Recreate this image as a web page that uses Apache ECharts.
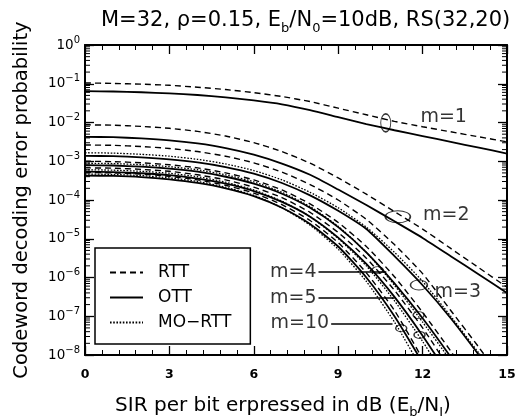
<!DOCTYPE html>
<html><head><meta charset="utf-8">
<script src="https://cdn.jsdelivr.net/npm/echarts@6/dist/echarts.min.js"></script>
<style>html,body{margin:0;padding:0;background:#fff}#c{width:520px;height:416px}</style>
</head><body><div id="c"></div>
<script>
// SIR per bit (dB)
const snr = [0,1,2,3,4,5,6,7,8,9,10,11,12,13,14,15];
const xTickLabels = ['0','3','6','9','12','15'];

// Codeword decoding error probability
const rttM1 = [1.05e-1,1.02e-1,9.77e-2,9.12e-2,8.13e-2,7.08e-2,5.89e-2,4.68e-2,3.47e-2,2.34e-2,1.58e-2,1.07e-2,7.76e-3,5.75e-3,4.27e-3,3.16e-3];
const ottM1 = [6.46e-2,6.31e-2,6.03e-2,5.62e-2,5.13e-2,4.47e-2,3.72e-2,2.95e-2,2.09e-2,1.38e-2,9.12e-3,6.31e-3,4.47e-3,3.16e-3,2.24e-3,1.58e-3];
const rttM2 = [8.71e-3,8.51e-3,7.94e-3,7.08e-3,5.89e-3,4.47e-3,3.02e-3,1.78e-3,8.91e-4,3.72e-4,1.41e-4,5.01e-5,1.78e-5,5.62e-6,1.78e-6,5.62e-7];
const ottM2 = [4.27e-3,4.17e-3,3.89e-3,3.47e-3,2.88e-3,2.19e-3,1.48e-3,8.71e-4,4.47e-4,1.86e-4,7.41e-5,2.82e-5,1.05e-5,3.55e-6,1.20e-6,3.98e-7];
const rttM3 = [2.63e-3,2.57e-3,2.40e-3,2.14e-3,1.78e-3,1.35e-3,9.12e-4,5.25e-4,2.51e-4,1.0e-4,3.16e-5,7.08e-6,1.26e-6,1.41e-7,1.58e-8,1.58e-9];
const ottM3 = [1.38e-3,1.35e-3,1.26e-3,1.12e-3,9.33e-4,7.08e-4,4.79e-4,2.75e-4,1.32e-4,5.25e-5,1.78e-5,3.55e-6,6.31e-7,8.91e-8,1.0e-8,1.0e-9];
const moM3  = [1.66e-3,1.62e-3,1.51e-3,1.35e-3,1.12e-3,8.51e-4,5.75e-4,3.31e-4,1.58e-4,6.31e-5,2.0e-5,4.47e-6,7.94e-7,1.0e-7,1.12e-8,1.26e-9];
const rttM4 = [1.0e-3,9.77e-4,9.12e-4,8.13e-4,6.76e-4,5.01e-4,3.31e-4,1.82e-4,7.94e-5,2.63e-5,6.31e-6,1.05e-6,1.26e-7,1.26e-8,1.12e-9];
const ottM4 = [7.94e-4,7.76e-4,7.24e-4,6.46e-4,5.37e-4,3.98e-4,2.63e-4,1.45e-4,6.31e-5,2.0e-5,4.47e-6,7.08e-7,8.91e-8,8.91e-9,7.94e-10];
const moM4  = [8.91e-4,8.71e-4,8.13e-4,7.24e-4,6.03e-4,4.47e-4,2.95e-4,1.58e-4,6.76e-5,2.09e-5,4.47e-6,6.31e-7,7.08e-8,7.08e-9,6.31e-10];
const rttM5 = [6.76e-4,6.61e-4,6.17e-4,5.50e-4,4.47e-4,3.31e-4,2.14e-4,1.15e-4,4.79e-5,1.45e-5,3.16e-6,4.68e-7,5.01e-8,3.98e-9];
const ottM5 = [5.37e-4,5.25e-4,4.90e-4,4.37e-4,3.55e-4,2.63e-4,1.70e-4,8.91e-5,3.72e-5,1.07e-5,2.24e-6,3.16e-7,3.16e-8,2.51e-9];
const moM5  = [6.03e-4,5.89e-4,5.50e-4,4.90e-4,3.98e-4,2.88e-4,1.82e-4,9.33e-5,3.72e-5,1.02e-5,2.0e-6,2.51e-7,2.24e-8,1.58e-9];
const rttM10 = [5.13e-4,5.01e-4,4.68e-4,4.07e-4,3.31e-4,2.40e-4,1.51e-4,7.59e-5,2.95e-5,7.94e-6,1.32e-6,1.41e-7,7.94e-9];
const ottM10 = [4.27e-4,4.17e-4,3.89e-4,3.39e-4,2.75e-4,2.0e-4,1.26e-4,6.31e-5,2.40e-5,6.31e-6,1.0e-6,1.0e-7,6.31e-9];
const moM10  = [4.68e-4,4.57e-4,4.27e-4,3.72e-4,3.02e-4,2.14e-4,1.32e-4,6.31e-5,2.24e-5,5.37e-6,7.94e-7,7.08e-8,3.98e-9];

// annotation anchors (data coordinates)
const groupLabelText = ['m=1','m=2','m=3'];
const groupLabelX = [12.75, 12.84, 13.25];
const groupLabelP = [1.35e-2, 4.2e-5, 4.3e-7];
const arrowLabelText = ['m=4','m=5','m=10'];
const arrowStartX = [8.3, 8.3, 8.75];
const arrowEndX = [10.71, 11.0, 10.93];
const arrowP = [1.41e-6, 3.0e-7, 6.5e-8];
const ellipseX = [10.69, 11.12, 11.87, 10.40, 11.86, 11.89, 11.24];
const ellipseP = [9.8e-3, 3.7e-5, 6.4e-7, 1.55e-6, 1.07e-7, 3.3e-8, 4.9e-8];
const minorMantissa = [2,3,4,5,6,7,8,9];
const decades = [-8,-7,-6,-5,-4,-3,-2,-1];

const ellipseSize = [[10,18],[25,12],[17,10],[11,7],[11,7],[11,7],[11,7]];
const FONT = '"DejaVu Sans", Verdana, sans-serif';
const MO = 'MO\u2212RTT';

const chart = echarts.init(document.getElementById('c'), null, {renderer:'canvas'});

function curve(name, arr, type, width) {
  return {
    name, type: 'line', data: arr.map((v,i)=>[snr[i], v]),
    symbol: 'none', showSymbol: false, smooth: 0.2, clip: true, silent: true,
    lineStyle: {color:'#000', width, type}, itemStyle: {color:'#000'}, z: 3
  };
}
const DASH = [6,4], DOT = [1.6,1.6];
const series = [
  curve('RTT', rttM1, DASH, 1.4), curve('OTT', ottM1, 'solid', 1.8),
  curve(MO, moM3, DOT, 1.3),
  curve('RTT', rttM2, DASH, 1.4), curve('OTT', ottM2, 'solid', 1.8),
  curve('RTT', rttM3, DASH, 1.4), curve('OTT', ottM3, 'solid', 1.8),
  curve('RTT', rttM4, DASH, 1.4), curve('OTT', ottM4, 'solid', 1.8), curve(MO, moM4, DOT, 1.3),
  curve('RTT', rttM5, DASH, 1.4), curve('OTT', ottM5, 'solid', 1.8), curve(MO, moM5, DOT, 1.3),
  curve('RTT', rttM10, DASH, 1.4), curve('OTT', ottM10, 'solid', 1.8), curve(MO, moM10, DOT, 1.3)
];

const minorVals = [];
decades.forEach(d => minorMantissa.forEach(k => minorVals.push([0, k * Math.pow(10, d)])));
series.push({
  name: 'yminor', type: 'custom', silent: true, z: 5,
  data: minorVals,
  renderItem: function (params, api) {
    const v = api.value(1);
    const a = api.coord([0, v]);
    const b = api.coord([15, v]);
    return {type:'group', children:[
      {type:'line', shape:{x1:a[0], y1:a[1], x2:a[0]+5, y2:a[1]}, style:{stroke:'#000', lineWidth:1}},
      {type:'line', shape:{x1:b[0]-5, y1:b[1], x2:b[0], y2:b[1]}, style:{stroke:'#000', lineWidth:1}}
    ]};
  }
});

series.push({
  name: 'groupLabels', type: 'scatter', silent: true, symbolSize: 0, z: 6,
  data: groupLabelText.map((t,i)=>({name:t, value:[groupLabelX[i], groupLabelP[i]]})),
  label: {show:true, position:'inside', formatter:'{b}', color:'#000', fontSize:19, fontFamily:FONT}
});
series.push({
  name: 'arrowLabels', type: 'scatter', silent: true, symbolSize: 0, z: 6,
  data: arrowLabelText.map((t,i)=>({name:t, value:[arrowStartX[i], arrowP[i]]})),
  label: {show:true, position:'left', distance:2, formatter:'{b}', color:'#000', fontSize:19, fontFamily:FONT},
  markLine: {
    silent: true, symbol: ['none','arrow'], symbolSize: [0, 7], animation:false,
    label: {show:false},
    lineStyle: {color:'#000', width:1.5, type:'solid'},
    data: arrowLabelText.map((t,i)=>[{coord:[arrowStartX[i], arrowP[i]]},{coord:[arrowEndX[i], arrowP[i]]}])
  }
});
series.push({
  name: 'ellipses', type: 'scatter', silent: true, z: 6, symbol: 'circle',
  symbolSize: function (val, params) { return ellipseSize[params.dataIndex]; },
  data: ellipseX.map((x,i)=>[x, ellipseP[i]]),
  itemStyle: {color:'rgba(0,0,0,0)', borderColor:'#000', borderWidth:1.2}
});

function supLabel(v) {
  const e = Math.round(Math.log10(v));
  return '{b|10}{s|' + (e < 0 ? '\u2212' + (-e) : String(e)) + '}';
}

const option = {
  animation: false,
  backgroundColor: '#fff',
  title: {
    text: '{t|M=32, }{t|\u03c1}{t|=0.15, E}{s|b}{t|/N}{s|0}{t|=10dB, RS(32,20)}',
    left: 96, top: 2,
    textStyle: {fontWeight:'normal', rich: {
      t: {fontSize:21, fontFamily:FONT, color:'#000', fontWeight:'normal', lineHeight:28},
      s: {fontSize:13, fontFamily:FONT, color:'#000', fontWeight:'normal', verticalAlign:'bottom'}
    }}
  },
  grid: {left:85, right:13, top:45, bottom:61, outerBoundsMode:'none', containLabel:false},
  legend: {
    data: ['RTT','OTT',MO],
    orient: 'vertical', left: 95, top: 248,
    padding: [14, 19, 11, 14],
    itemWidth: 33, itemHeight: 14, itemGap: 4,
    itemStyle: {opacity: 0},
    borderColor: '#000', borderWidth: 1.5, backgroundColor: '#fff',
    selectedMode: false,
    textStyle: {fontSize:17, fontFamily:FONT, color:'#000', lineHeight:21, padding:[0,0,0,10]}
  },
  xAxis: [{
    type:'value', min:0, max:15, interval:3,
    name: '{n|SIR per bit erpressed in dB (E}{s|b}{n|/N}{s|I}{n|)}',
    nameLocation:'middle', nameGap: 38,
    nameTextStyle: {padding:[0,26,0,0], rich: {
      n: {fontSize:20, fontFamily:FONT, color:'#000', lineHeight:26},
      s: {fontSize:13, fontFamily:FONT, color:'#000', verticalAlign:'bottom'}
    }},
    axisLine: {show:true, onZero:false, lineStyle:{color:'#000', width:2}},
    axisTick: {show:true, inside:true, length:9, lineStyle:{color:'#000', width:1.3}},
    minorTick: {show:true, splitNumber:5, length:5, lineStyle:{color:'#000', width:1}},
    axisLabel: {color:'#000', fontSize:12.5, fontWeight:'bold', fontFamily:FONT, margin:13,
      formatter: function (v) { return xTickLabels[Math.round(v/3)]; }},
    splitLine: {show:false}
  },{
    type:'value', min:0, max:15, interval:3, position:'top',
    axisLine: {show:true, onZero:false, lineStyle:{color:'#000', width:2}},
    axisTick: {show:true, inside:true, length:9, lineStyle:{color:'#000', width:1.3}},
    minorTick: {show:true, splitNumber:5, length:5, lineStyle:{color:'#000', width:1}},
    axisLabel: {show:false}, splitLine: {show:false}
  }],
  yAxis: [{
    type:'log', logBase:10, min:1e-8, max:1, interval:1,
    name: 'Codeword decoding error probability',
    nameLocation:'middle', nameGap: 53, nameRotate: 90,
    nameTextStyle: {fontSize:19.5, fontFamily:FONT, color:'#000'},
    axisLine: {show:true, onZero:false, lineStyle:{color:'#000', width:2}},
    axisTick: {show:true, inside:true, length:9, lineStyle:{color:'#000', width:1.3}},
    minorTick: {show:false},
    axisLabel: {margin:5, formatter: supLabel, rich: {
      b: {fontSize:13.5, fontFamily:FONT, color:'#000', lineHeight:20},
      s: {fontSize:10, fontFamily:FONT, color:'#000', verticalAlign:'top'}
    }},
    splitLine: {show:false}
  },{
    type:'log', logBase:10, min:1e-8, max:1, interval:1, position:'right',
    axisLine: {show:true, onZero:false, lineStyle:{color:'#000', width:2}},
    axisTick: {show:true, inside:true, length:9, lineStyle:{color:'#000', width:1.3}},
    axisLabel: {show:false}, splitLine: {show:false}
  }],
  series: series
};
chart.setOption(option);
</script></body></html>
